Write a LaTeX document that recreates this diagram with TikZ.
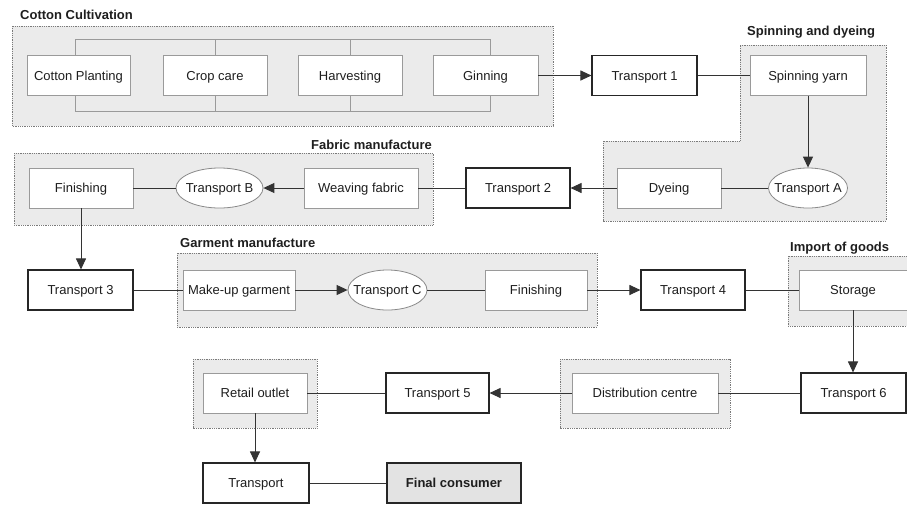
\documentclass[tikz,border=0pt]{standalone}
\usepackage{fontspec}
\setmainfont{Liberation Sans}
\usetikzlibrary{arrows.meta,shapes.geometric}
\definecolor{regfill}{HTML}{EBEBEB}
\definecolor{regline}{HTML}{7A7A7A}
\definecolor{inline}{HTML}{9A9A9A}
\definecolor{ovline}{HTML}{8A8A8A}
\definecolor{txt}{HTML}{1E1E1E}
\definecolor{fcfill}{HTML}{E3E3E3}
\begin{document}
\begin{tikzpicture}[x=1pt,y=-1pt,
  font=\fontsize{13}{15}\selectfont, text=txt,
  region/.style={fill=regfill, draw=regline, densely dotted, line width=0.8pt},
  inbox/.style={draw=inline, fill=white, line width=0.8pt, minimum height=40pt, inner sep=0pt, text height=9.4pt, text depth=0pt},
  tbox/.style={draw=black!85, fill=white, line width=1.1pt, minimum height=40pt, inner sep=0pt, text height=9.4pt, text depth=0pt},
  oval/.style={ellipse, draw=ovline, fill=white, line width=0.8pt, minimum height=40pt, inner sep=0pt, text height=9.4pt, text depth=0pt},
  conn/.style={draw=black!80, line width=1pt},
  arr/.style={conn, -{Triangle[length=11pt,width=10pt]}},
  bracket/.style={draw=inline, line width=0.8pt},
  title/.style={font=\fontsize{13}{15}\selectfont\bfseries, inner sep=0pt}
]
\path[use as bounding box] (0,0) rectangle (907,504);
\clip (0,0) rectangle (907,504);

% regions
\draw[region] (12,26) rectangle (553,126);
\draw[region] (740,45) -- (886,45) -- (886,221) -- (603,221) -- (603,141) -- (740,141) -- cycle;
\draw[region] (14,153) rectangle (433,225);
\draw[region] (177,253) rectangle (597,327);
\draw[region] (788,256) rectangle (915,326);
\draw[region] (560,359) rectangle (730,428);
\draw[region] (193,359) rectangle (317,428);

% titles
\node[title, anchor=west] (lcc) at (20,15) {Cotton Cultivation};
\node[title, anchor=west] (lsd) at (747,32) {Spinning and dyeing};
\node[title, anchor=east] (lfm) at (432,145) {Fabric manufacture};
\node[title, anchor=west] (lgm) at (180,243) {Garment manufacture};
\node[title, anchor=west] (lig) at (790,248) {Import of goods};

% row 1
\node[inbox, minimum width=103pt] (cp) at (78.5,75.5) {Cotton Planting};
\node[inbox, minimum width=104pt] (cc) at (215,75.5) {Crop care};
\node[inbox, minimum width=104pt] (hv) at (350,75.5) {Harvesting};
\node[inbox, minimum width=105pt] (gin) at (485.5,75.5) {Ginning};
\node[tbox, minimum width=105pt] (t1) at (644.5,75.5) {Transport 1};
\node[inbox, minimum width=116pt] (spin) at (808,75.5) {Spinning yarn};

\coordinate (topline) at (0,39);
\coordinate (botline) at (0,111);
\draw[bracket] ([xshift=-3.5pt]cp.north) |- ([xshift=4.5pt]gin.north |- topline) -- ([xshift=4.5pt]gin.north);
\draw[bracket] (cc.north) -- (cc.north |- topline);
\draw[bracket] (hv.north) -- (hv.north |- topline);
\draw[bracket] ([xshift=-3.5pt]cp.south) |- ([xshift=4.5pt]gin.south |- botline) -- ([xshift=4.5pt]gin.south);
\draw[bracket] (cc.south) -- (cc.south |- botline);
\draw[bracket] (hv.south) -- (hv.south |- botline);

% row 2
\node[oval, minimum width=79pt] (ta) at (808,188) {\makebox[0pt]{Transport A}};
\node[inbox, minimum width=104pt] (dye) at (669,188) {Dyeing};
\node[tbox, minimum width=104pt] (t2) at (518,188) {Transport 2};
\node[inbox, minimum width=114pt] (weave) at (361,188) {Weaving fabric};
\node[oval, minimum width=87pt] (tb) at (219.5,188) {\makebox[0pt]{Transport B}};
\node[inbox, minimum width=104pt] (fin1) at (81,188) {Finishing};

% row 3
\node[tbox, minimum width=105pt] (t3) at (80.5,290) {Transport 3};
\node[inbox, minimum width=112pt] (mug) at (239,290) {Make-up garment};
\node[oval, minimum width=79pt] (tc) at (387.5,290) {\makebox[0pt]{Transport C}};
\node[inbox, minimum width=102pt] (fin2) at (536,290) {Finishing};
\node[tbox, minimum width=104pt] (t4) at (693,290) {Transport 4};
\node[inbox, minimum width=108pt] (stor) at (853,290) {Storage};

% row 4
\node[tbox, minimum width=105pt] (t6) at (853.5,393) {Transport 6};
\node[inbox, minimum width=146pt] (dist) at (645,393) {Distribution centre};
\node[tbox, minimum width=103pt] (t5) at (437.5,393) {Transport 5};
\node[inbox, minimum width=104pt] (ret) at (255,393) {Retail outlet};

% row 5
\node[tbox, minimum width=106pt] (tfin) at (256,483) {Transport};
\node[tbox, fill=fcfill, minimum width=134pt, font=\fontsize{13}{15}\selectfont\bfseries] (fc) at (454,483) {Final consumer};

% connectors
\draw[arr] (gin) -- (t1);
\draw[conn] (t1) -- (spin);
\draw[arr] (spin) -- (ta);
\draw[conn] (ta) -- (dye);
\draw[arr] (dye) -- (t2);
\draw[conn] (t2) -- (weave);
\draw[arr] (weave) -- (tb);
\draw[conn] (tb) -- (fin1);
\draw[arr] (fin1.south) -- (fin1.south |- t3.north);
\draw[conn] (t3) -- (mug);
\draw[arr] (mug) -- (tc);
\draw[conn] (tc) -- (fin2);
\draw[arr] (fin2) -- (t4);
\draw[conn] (t4) -- (stor);
\draw[arr] (stor.south) -- (stor.south |- t6.north);
\draw[conn] (t6) -- (dist);
\draw[arr] (dist) -- (t5);
\draw[conn] (t5) -- (ret);
\draw[arr] (ret.south) -- (ret.south |- tfin.north);
\draw[conn] (tfin) -- (fc);
\end{tikzpicture}
\end{document}
